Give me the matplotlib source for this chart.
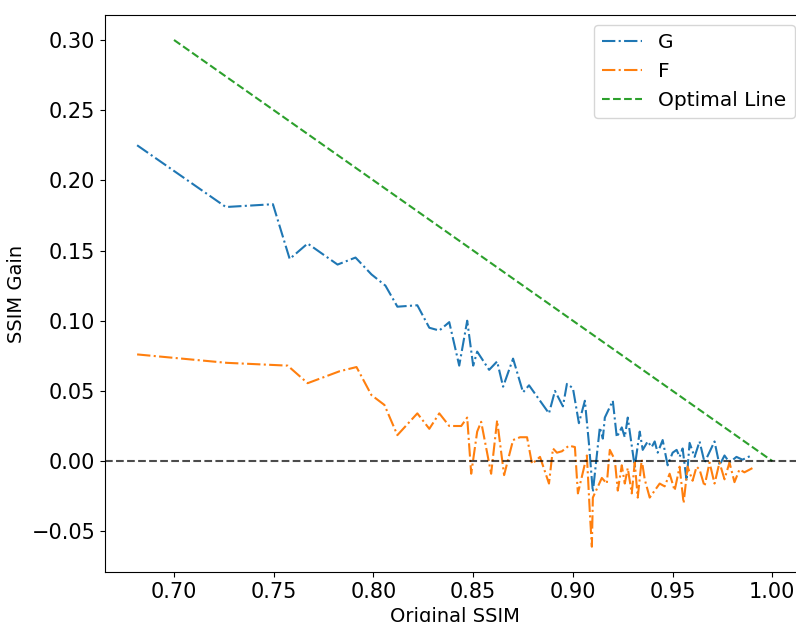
import matplotlib
matplotlib.use("Agg")
import matplotlib.pyplot as plt

# G curve
g_x = [0.6815, 0.726, 0.7496, 0.758, 0.767, 0.782, 0.791, 0.799, 0.806, 0.812,
       0.822, 0.828, 0.833, 0.838, 0.843, 0.847, 0.850, 0.852, 0.858, 0.862,
       0.865, 0.870, 0.875, 0.878, 0.888, 0.891, 0.895, 0.897, 0.900, 0.903,
       0.906, 0.908, 0.910, 0.9135, 0.915, 0.916, 0.920, 0.922, 0.9245, 0.926,
       0.9275, 0.9295, 0.931, 0.9335, 0.935, 0.9375, 0.9395, 0.941, 0.9425, 0.945,
       0.9475, 0.950, 0.952, 0.9535, 0.955, 0.957, 0.9585, 0.961, 0.9635, 0.966,
       0.971, 0.9735, 0.976, 0.9785, 0.982, 0.985, 0.9895]
g_y = [0.225, 0.181, 0.183, 0.144, 0.155, 0.140, 0.145, 0.133, 0.125, 0.110,
       0.111, 0.095, 0.093, 0.099, 0.068, 0.100, 0.068, 0.078, 0.065, 0.071,
       0.053, 0.073, 0.049, 0.054, 0.034, 0.050, 0.039, 0.055, 0.052, 0.027,
       0.043, 0.013, -0.022, 0.024, 0.016, 0.031, 0.043, 0.017, 0.024, 0.017,
       0.031, 0.011, -0.004, 0.021, 0.008, 0.014, 0.010, 0.014, 0.006, 0.015,
       -0.003, 0.006, 0.008, 0.003, 0.009, -0.014, 0.013, 0.003, 0.014, -0.001,
       0.014, -0.003, 0.004, -0.001, 0.003, 0.001, 0.004]

# F curve
f_x = [0.6815, 0.7265, 0.757, 0.767, 0.783, 0.7915, 0.799, 0.8055, 0.812, 0.822,
       0.828, 0.833, 0.838, 0.844, 0.847, 0.849, 0.852, 0.854, 0.859, 0.862,
       0.8655, 0.870, 0.8735, 0.877, 0.8795, 0.8835, 0.888, 0.890, 0.892, 0.8945,
       0.898, 0.901, 0.9025, 0.907, 0.9085, 0.9095, 0.910, 0.9145, 0.917, 0.9185,
       0.921, 0.9225, 0.9245, 0.926, 0.9275, 0.9295, 0.931, 0.9325, 0.9345, 0.936,
       0.9385, 0.941, 0.9435, 0.946, 0.9485, 0.951, 0.9535, 0.9555, 0.9575, 0.960,
       0.962, 0.9635, 0.966, 0.9685, 0.971, 0.9735, 0.976, 0.9785, 0.981, 0.9835,
       0.986, 0.990]
f_y = [0.076, 0.070, 0.068, 0.0555, 0.064, 0.067, 0.047, 0.040, 0.0185, 0.034,
       0.023, 0.034, 0.025, 0.025, 0.031, -0.009, 0.021, 0.028, -0.009, 0.029,
       -0.010, 0.015, 0.017, 0.017, -0.002, 0.003, -0.016, 0.009, 0.006, 0.007,
       0.011, 0.010, -0.023, 0.004, -0.037, -0.061, -0.026, -0.012, -0.016, 0.008,
       0.001, -0.021, -0.003, -0.016, -0.005, -0.023, -0.001, -0.026, 0.001, -0.013,
       -0.026, -0.021, -0.016, -0.018, -0.009, -0.021, -0.004, -0.030, -0.004, -0.014,
       -0.004, -0.006, -0.018, -0.001, -0.016, -0.001, -0.013, -0.001, -0.015, -0.006,
       -0.008, -0.005]

opt_x = [0.70, 1.00]
opt_y = [0.30, 0.00]

fig = plt.figure(figsize=(7.96, 6.22), dpi=100)
ax = fig.add_axes([0.1319, 0.0804, 0.879, 0.8955])

ax.plot(g_x, g_y, "-.", color="#1f77b4", linewidth=1.5, label="G")
ax.plot(f_x, f_y, "-.", color="#ff7f0e", linewidth=1.5, label="F")
ax.plot(opt_x, opt_y, "--", color="#2ca02c", linewidth=1.5, label="Optimal Line")
ax.axhline(0, color="k", linestyle="--", alpha=0.7, linewidth=1.5)

ax.set_xlim(0.6654, 1.0162)
ax.set_ylim(-0.079, 0.3178)
ax.set_xticks([0.70, 0.75, 0.80, 0.85, 0.90, 0.95, 1.00])
ax.tick_params(labelsize=15)
ax.set_xlabel("Original SSIM", fontsize=14)
ax.set_ylabel("SSIM Gain", fontsize=14)
ax.legend(loc="upper right", fontsize=14.5)

fig.savefig("out.png", dpi=100)
